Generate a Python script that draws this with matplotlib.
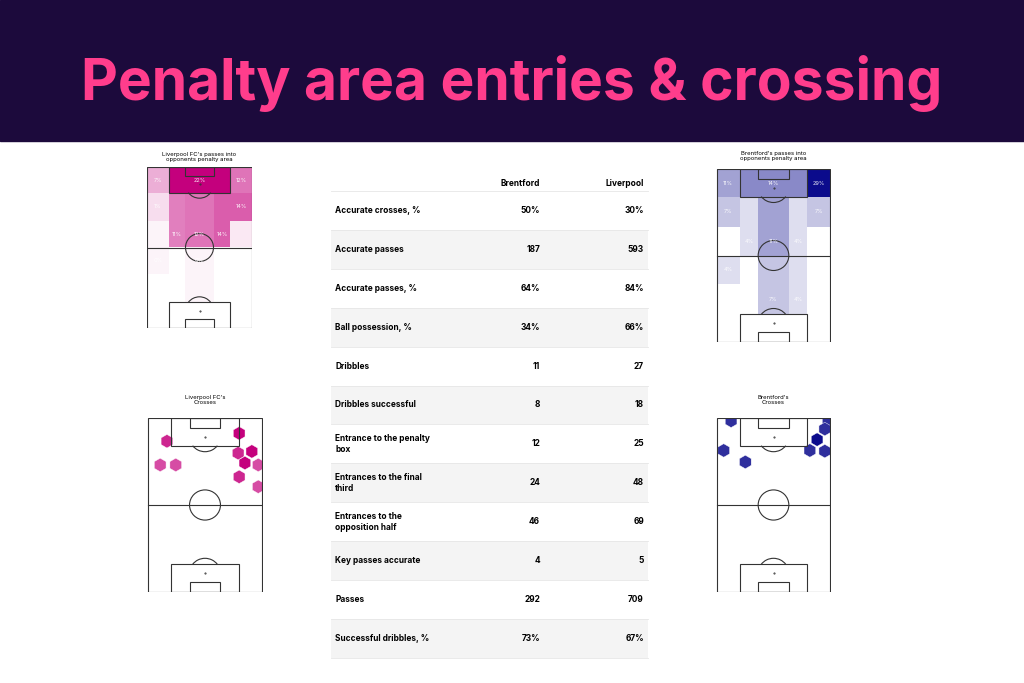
import matplotlib
matplotlib.use("Agg")
import matplotlib.pyplot as plt
import numpy as np
from matplotlib.patches import Rectangle, Circle, Arc
from matplotlib.colors import LinearSegmentedColormap

plt.rcParams['font.family'] = ['Inter', 'DejaVu Sans']

title = "Penalty area entries & crossing"
stat_names = ["Accurate crosses, %", "Accurate passes", "Accurate passes, %", "Ball possession, %",
              "Dribbles", "Dribbles successful", "Entrance to the penalty\nbox",
              "Entrances to the final\nthird", "Entrances to the\nopposition half",
              "Key passes accurate", "Passes", "Successful dribbles, %"]
brentford_vals = ["50%", "187", "64%", "34%", "11", "8", "12", "24", "46", "4", "292", "73%"]
liverpool_vals = ["30%", "593", "84%", "66%", "27", "18", "25", "48", "69", "5", "709", "67%"]

# zone grid: rows top (opponent goal) -> bottom, columns left -> right
row_edges = [105, 88.5, 70, 52.5, 35, 16.5, 0]
col_edges = [0, 13.84, 24.84, 43.16, 54.16, 68]
lfc_zone = np.array([
    [7, 22, 22, 22, 12],
    [3, 11, 12, 14, 14],
    [1, 11, 12, 14, 2],
    [1, 0, 1, 0, 0],
    [0, 0, 1, 0, 0],
    [0, 0, 0, 0, 0]])
lfc_labels = [
    ["7%", "", "22%", "", "12%"],
    ["1%", "", "", "", "14%"],
    ["", "11%", "12%", "14%", ""],
    ["0%", "0%", "0%", "0%", "0%"],
    ["0%", "", "", "", "0%"],
    ["0%", "", "0%", "", "0%"]]
bre_zone = np.array([
    [11, 14, 14, 14, 29],
    [7, 4, 11, 4, 7],
    [0, 4, 11, 4, 0],
    [4, 0, 7, 4, 0],
    [0, 0, 7, 4, 0],
    [0, 0, 0, 0, 0]])
bre_labels = [
    ["11%", "", "14%", "", "29%"],
    ["7%", "", "", "", "7%"],
    ["0%", "4%", "11%", "4%", "0%"],
    ["4%", "", "", "", "0%"],
    ["0%", "0%", "7%", "4%", "0%"],
    ["0%", "", "0%", "", "0%"]]

lfc_cross_x = [11.5, 54.2, 7.5, 16.7, 53.6, 61.7, 57.6, 65.5, 54.2, 65.5]
lfc_cross_y = [91.2, 96.0, 76.8, 76.8, 84.0, 85.0, 78.0, 76.8, 69.6, 63.6]
lfc_cross_n = [2, 3, 1, 1, 2, 3, 3, 1, 2, 1]
bre_cross_x = [8.7, 66.6, 64.6, 60.0, 4.3, 17.2, 55.7, 64.6]
bre_cross_y = [103.6, 103.0, 98.6, 92.2, 85.6, 78.6, 85.6, 85.2]
bre_cross_n = [2, 2, 2, 3, 2, 2, 2, 2]

LFC = "#c4007d"
BRE = "#0b0b8c"
W, H = 1024, 683
fig = plt.figure(figsize=(W/100, H/100), dpi=100)
bg = fig.add_axes([0, 0, 1, 1])
bg.set_xlim(0, W); bg.set_ylim(H, 0); bg.axis('off')
bg.add_patch(Rectangle((0, 0), W, 141, color="#1c0a3c", zorder=0))
bg.text(W/2, 84, title, ha='center', va='center', color="#ff3d8c", fontsize=41, fontweight='bold')

# table
tx0, tx1 = 331, 648
bg.text(540, 184, "Brentford", ha='right', va='center', fontsize=6, fontweight='bold')
bg.text(644, 184, "Liverpool", ha='right', va='center', fontsize=6, fontweight='bold')
bg.plot([tx0, tx1], [191, 191], color="#e6e6e6", lw=0.6)
rh = 38.9
for i, (n, b, l) in enumerate(zip(stat_names, brentford_vals, liverpool_vals)):
    top = 191 + i*rh
    yc = top + rh/2
    if i % 2 == 1:
        bg.add_patch(Rectangle((tx0, top), tx1-tx0, rh, color="#f4f4f4", lw=0))
    bg.plot([tx0, tx1], [top+rh, top+rh], color="#e6e6e6", lw=0.6)
    bg.text(335, yc, n, ha='left', va='center', fontsize=6, fontweight='bold', linespacing=1.3)
    bg.text(540, yc, b, ha='right', va='center', fontsize=6, fontweight='bold')
    bg.text(644, yc, l, ha='right', va='center', fontsize=6, fontweight='bold')

def pitch_axes(x0, y0, x1, y1):
    ax = fig.add_axes([x0/W, 1-y1/H, (x1-x0)/W, (y1-y0)/H])
    ax.set_xlim(-0.3, 68.3); ax.set_ylim(-0.3, 105.3); ax.axis('off')
    return ax

def draw_pitch(ax):
    c, lw = "#333333", 0.8
    kw = dict(fill=False, ec=c, lw=lw, zorder=5)
    ax.add_patch(Rectangle((0, 0), 68, 105, **kw))
    ax.plot([0, 68], [52.5, 52.5], color=c, lw=lw, zorder=5)
    ax.add_patch(Circle((34, 52.5), 9.15, **kw))
    for yb, s in [(0, 1), (105, -1)]:
        ax.add_patch(Rectangle((13.84, yb if s > 0 else yb-16.5), 40.32, 16.5, **kw))
        ax.add_patch(Rectangle((24.84, yb if s > 0 else yb-5.5), 18.32, 5.5, **kw))
        ax.plot(34, yb + s*11, marker='.', ms=1, color=c, zorder=5)
        ax.add_patch(Arc((34, yb + s*11), 18.3, 18.3, theta1=37 if s > 0 else 217,
                         theta2=143 if s > 0 else 323, ec=c, lw=lw, zorder=5))

def heat(ax, zone, labels, color):
    cmap = LinearSegmentedColormap.from_list("c", ["#ffffff", color])
    vmax = zone.max()
    for r in range(zone.shape[0]):
        for k in range(zone.shape[1]):
            x0, x1 = col_edges[k], col_edges[k+1]
            ya, yb = row_edges[r+1], row_edges[r]
            ax.add_patch(Rectangle((x0, ya), x1-x0, yb-ya, color=cmap(zone[r, k]/vmax), lw=0, zorder=1))
            if labels[r][k]:
                ax.text((x0+x1)/2, (ya+yb)/2, labels[r][k], ha='center', va='center',
                        fontsize=4, color="#ffffff", alpha=0.9, zorder=6)

def crosses(ax, xs, ys, ns, color):
    cmap = LinearSegmentedColormap.from_list("c", ["#ffffff", color])
    cols = [cmap(0.55 + 0.45*n/max(ns)) for n in ns]
    ax.scatter(xs, ys, marker='h', s=95, c=cols, edgecolors='white', linewidths=0.3, zorder=4, clip_on=True)

ax1 = pitch_axes(147, 167, 252, 328)
heat(ax1, lfc_zone, lfc_labels, LFC); draw_pitch(ax1)
bg.text(199.5, 157, "Liverpool FC's passes into\nopponents penalty area", ha='center', va='center', fontsize=4.3, linespacing=1.2)

ax2 = pitch_axes(716, 169, 831, 342)
heat(ax2, bre_zone, bre_labels, BRE); draw_pitch(ax2)
bg.text(773.5, 156, "Brentford's passes into\nopponents penalty area", ha='center', va='center', fontsize=4.3, linespacing=1.2)

ax3 = pitch_axes(147, 418, 263, 592)
crosses(ax3, lfc_cross_x, lfc_cross_y, lfc_cross_n, LFC); draw_pitch(ax3)
bg.text(205, 400, "Liverpool FC's\nCrosses", ha='center', va='center', fontsize=4.3, linespacing=1.2)

ax4 = pitch_axes(716, 418, 831, 592)
crosses(ax4, bre_cross_x, bre_cross_y, bre_cross_n, BRE); draw_pitch(ax4)
bg.text(773.5, 400, "Brentford's\nCrosses", ha='center', va='center', fontsize=4.3, linespacing=1.2)

fig.savefig("out.png", dpi=100, facecolor="white")
